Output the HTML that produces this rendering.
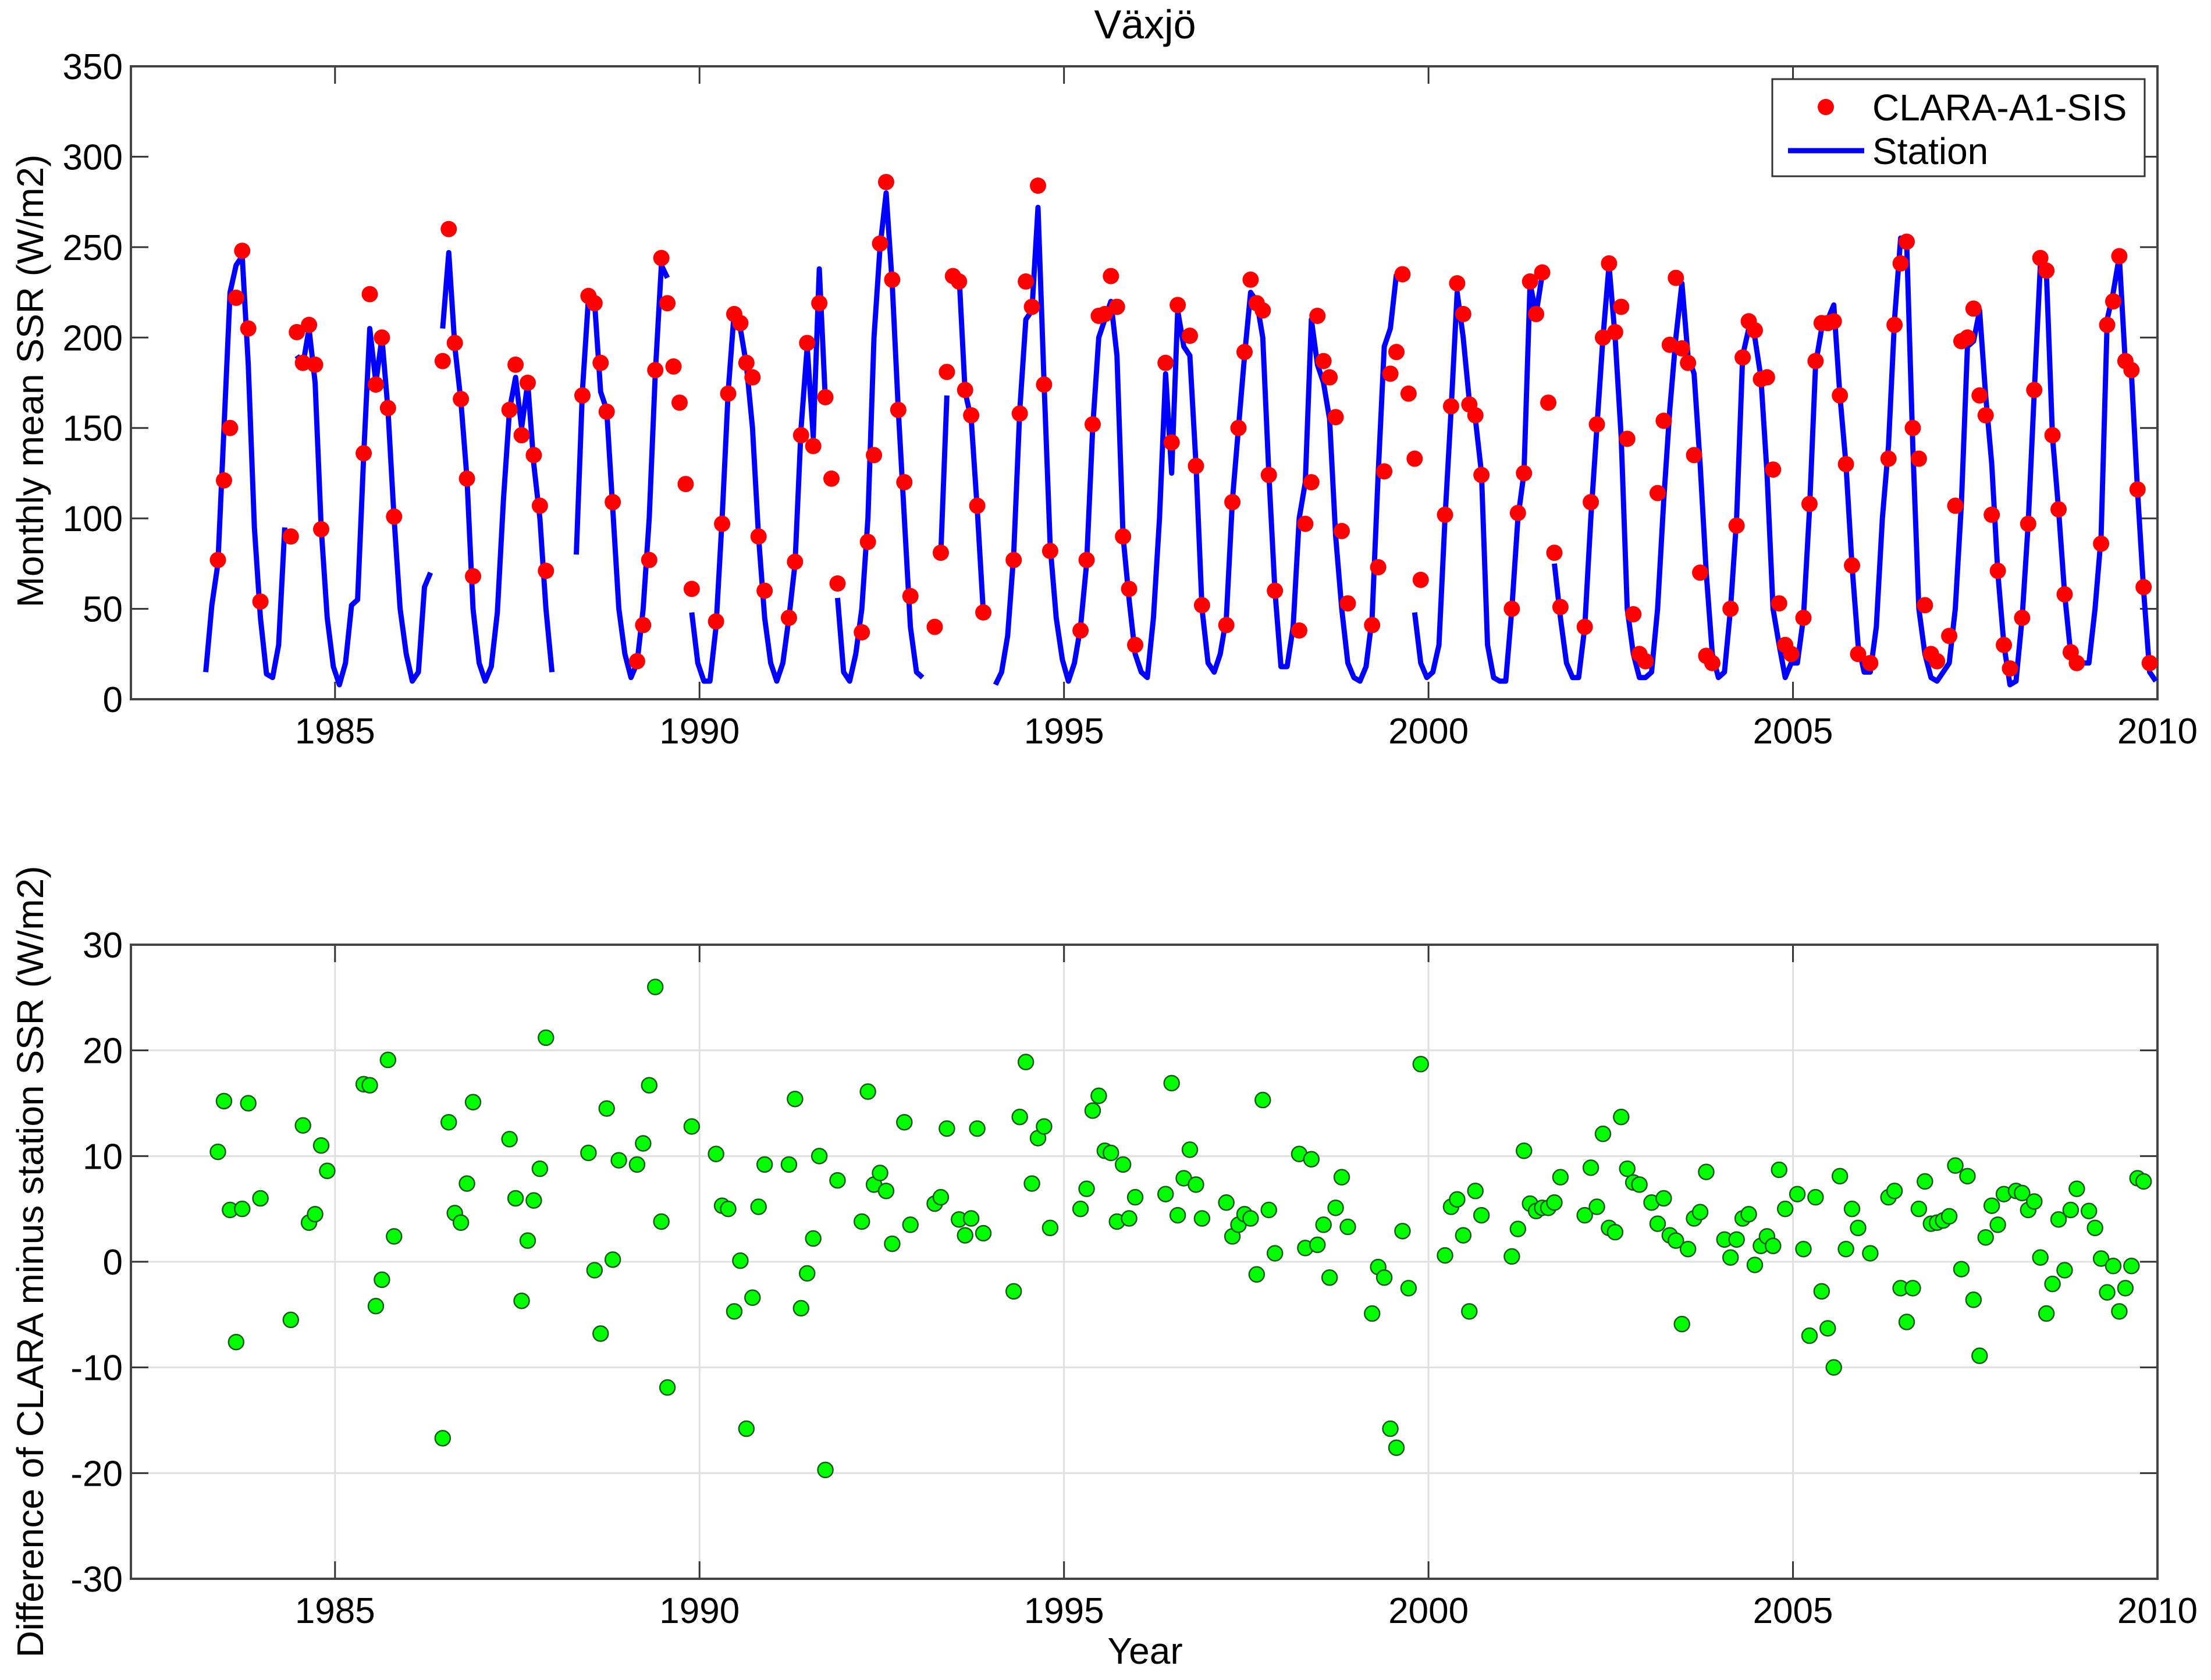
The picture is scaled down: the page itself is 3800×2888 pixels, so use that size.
<!DOCTYPE html>
<html><head><meta charset="utf-8">
<style>
html,body{margin:0;padding:0;background:#fff;}
svg{display:block;font-family:"Liberation Sans",Arial,sans-serif;}
</style></head>
<body>
<svg id="chart" width="3800" height="2888" viewBox="0 0 3800 2888" xmlns="http://www.w3.org/2000/svg">
<rect x="0" y="0" width="3800" height="2888" fill="#fff"/>
<text x="1968" y="66" font-size="70" text-anchor="middle">Växjö</text>
<g id="top"></g>
<g id="bot"></g>
<text transform="translate(74,655) rotate(-90)" font-size="64" text-anchor="middle">Monthly mean SSR (W/m2)</text>
<text transform="translate(74,2169) rotate(-90)" font-size="64" text-anchor="middle">Difference of CLARA minus station SSR (W/m2)</text>
<text x="1968" y="2860" font-size="64" text-anchor="middle">Year</text>
<g>
<rect x="3046" y="136" width="640" height="167" fill="#fff" stroke="#333" stroke-width="3"/>
<circle cx="3138" cy="184" r="14" fill="#ff0000"/>
<text x="3218" y="207" font-size="64">CLARA-A1-SIS</text>
<line x1="3073" y1="259" x2="3204" y2="259" stroke="#0000ff" stroke-width="9"/>
<text x="3218" y="282" font-size="64">Station</text>
</g>
</svg>
<script>
const startYear = 1983;
const xTicks = [1985, 1990, 1995, 2000, 2005, 2010];
const topYTicks = [0, 50, 100, 150, 200, 250, 300, 350];
const botYTicks = [-30, -20, -10, 0, 10, 20, 30];
const _ = null;
const station = [
_,_,15,52,75,150,225,240,245,185,95,45,
14,12,30,95,_,190,185,205,175,95,45,18,
8,20,52,55,135,205,175,200,160,100,50,25,
10,15,62,70,_,205,247,195,165,122,50,20,
10,18,48,110,160,178,150,175,130,100,50,15,
_,_,_,80,170,222,220,170,160,105,50,25,
12,20,50,100,180,240,233,_,_,_,48,20,
10,10,40,100,170,215,205,185,150,90,45,20,
10,20,45,75,150,195,145,238,165,_,56,15,
10,25,50,100,200,250,280,230,160,100,40,15,
12,_,_,80,168,_,235,170,155,105,48,_,
8,15,35,80,160,210,215,272,175,85,45,22,
10,20,40,75,150,200,210,220,190,90,55,25,
15,12,45,100,180,125,215,195,190,130,50,20,
15,25,45,110,150,190,225,220,200,125,60,18,
18,40,100,120,210,185,175,155,90,50,20,12,
10,18,45,125,195,205,235,_,_,48,20,12,
15,30,100,160,225,200,165,155,125,30,12,10,
10,50,100,125,230,213,235,_,75,45,20,12,
12,40,100,150,200,240,200,145,50,25,12,12,
15,50,110,160,200,230,190,180,130,70,25,12,
15,50,100,190,205,200,178,125,50,30,12,20,
20,45,105,185,205,210,218,168,130,74,30,15,
15,40,100,140,210,255,252,140,50,25,12,10,
15,20,50,108,195,198,215,168,130,70,30,8,
10,45,97,170,240,236,145,105,58,25,18,20,
20,50,90,210,225,245,185,180,115,60,15,10];
const clara = [
_,_,_,_,77,121,150,222,248,205,_,54,
_,_,_,_,90,203,186,207,185,94,_,_,
_,_,_,_,136,224,174,200,161,101,_,_,
_,_,_,_,_,187,260,197,166,122,68,_,
_,_,_,_,160,185,146,175,135,107,71,_,
_,_,_,_,168,223,219,186,159,109,_,_,
_,21,41,77,182,244,219,184,164,119,61,_,
_,_,43,97,169,213,208,186,178,90,60,_,
_,_,45,76,146,197,140,219,167,122,64,_,
_,_,37,87,135,252,286,232,160,120,57,_,
_,_,40,81,181,234,231,171,157,107,48,_,
_,_,_,77,158,231,217,284,174,82,_,_,
_,_,38,77,152,212,213,234,217,90,61,30,
_,_,_,_,186,142,218,_,201,129,52,_,
_,_,41,109,150,192,232,219,215,124,60,_,
_,_,38,97,120,212,187,178,156,93,53,_,
_,_,41,73,126,180,192,235,169,133,66,_,
_,_,102,162,230,213,163,157,124,_,_,_,
_,50,103,125,231,213,236,164,81,51,_,_,
_,40,109,152,200,241,203,217,144,47,25,21,
_,114,154,196,233,194,186,135,70,24,20,_,
_,50,96,189,209,204,177,178,127,53,30,25,
_,45,108,187,208,208,209,168,130,74,25,_,
20,_,_,133,207,241,253,150,133,52,25,21,
_,35,107,198,200,216,168,157,102,71,30,17,
_,45,97,171,244,237,146,105,58,26,20,_,
_,_,86,207,220,245,187,182,116,62,20,_];
const diffMonths = [4,5,6,7,8,9,11,16,18,19,20,21,22,28,29,30,31,32,33,41,42,43,44,45,46,52,53,54,55,56,57,58,65,66,67,68,69,70,73,74,75,76,77,78,82,86,87,88,89,90,91,92,93,94,98,99,100,101,102,103,104,106,110,111,112,113,114,115,117,118,122,123,124,126,127,128,129,130,135,136,137,138,139,140,141,146,147,148,149,150,151,152,153,154,155,160,161,162,163,164,165,166,170,171,172,173,174,175,176,177,178,182,183,184,185,186,187,188,189,190,194,195,196,197,198,199,200,202,206,207,208,209,210,211,212,217,218,219,220,221,222,223,224,225,229,230,231,232,233,234,235,236,237,238,240,241,242,243,244,245,246,247,248,249,252,253,254,255,256,257,258,259,260,261,262,264,265,266,267,268,269,270,271,272,273,274,276,279,280,281,282,283,284,285,286,287,288,289,290,291,292,293,294,295,296,297,298,300,301,302,303,304,305,306,307,308,309,310,312,313,314,315,316,317,318,319,320,321];
const diffValues = [10.4,15.2,4.9,-7.6,5,15,6,-5.5,12.9,3.7,4.5,11,8.6,16.8,16.7,-4.2,-1.7,19.1,2.4,-16.7,13.2,4.6,3.7,7.4,15.1,11.6,6,-3.7,2,5.8,8.8,21.2,10.3,-0.8,-6.8,14.5,0.2,9.6,9.2,11.2,16.7,26,3.8,-11.9,12.8,10.2,5.3,5,-4.7,0.1,-15.8,-3.4,5.2,9.2,9.2,15.4,-4.4,-1.1,2.2,10,-19.7,7.7,3.8,16.1,7.3,8.4,6.7,1.7,13.2,3.5,5.5,6.1,12.6,4,2.5,4.1,12.6,2.7,-2.8,13.7,18.9,7.4,11.7,12.8,3.2,5,6.9,14.3,15.7,10.5,10.3,3.8,9.2,4.1,6.1,6.4,16.9,4.4,7.9,10.6,7.3,4.1,5.6,2.4,3.5,4.5,4.1,-1.2,15.3,4.9,0.8,10.2,1.3,9.7,1.6,3.5,-1.5,5.1,8,3.3,-4.9,-0.5,-1.5,-15.8,-17.6,2.9,-2.5,18.7,0.6,5.2,5.9,2.5,-4.7,6.7,4.4,0.5,3.1,10.5,5.5,4.8,5.1,5.1,5.6,8,4.4,8.9,5.2,12.1,3.2,2.8,13.7,8.8,7.5,7.3,5.6,3.6,6,2.5,2,-5.9,1.2,4.1,4.7,8.5,2.1,0.4,2.1,4.1,4.5,-0.3,1.5,2.4,1.5,8.7,5,6.4,1.2,-7,6.1,-2.8,-6.3,-10,8.1,1.2,5,3.2,0.8,6.1,6.7,-2.5,-5.7,-2.5,5,7.6,3.6,3.7,3.9,4.3,9.1,-0.7,8.1,-3.6,-8.9,2.3,5.3,3.5,6.4,6.7,6.5,4.9,5.7,0.4,-4.9,-2.1,4,-0.8,4.9,6.9,4.8,3.2,0.3,-2.9,-0.4,-4.7,-2.5,-0.4,7.9,7.6];

const NS = 'http://www.w3.org/2000/svg';
const L = 225, R = 3708, XMIN = 1982.2, XMAX = 2010;
const TOP = {t:114, b:1202, min:0, max:350};
const BOT = {t:1624, b:2714, min:-30, max:30};
function xs(t){ return L + (t - XMIN) / (XMAX - XMIN) * (R - L); }
function ys(p, v){ return p.b - (v - p.min) / (p.max - p.min) * (p.b - p.t); }
function monthTime(n){ return startYear + n / 12 + 0.06; }
function mk(tag, attrs, parent){ const e = document.createElementNS(NS, tag); for (const k in attrs) e.setAttribute(k, attrs[k]); parent.appendChild(e); return e; }

function drawAxes(g, p, yTicks, grid, prefix){
  if (grid){
    xTicks.forEach(v => { const l = mk('line', {x1:xs(v), x2:xs(v), y1:p.t, y2:p.b, stroke:'#e0e0e0', 'stroke-width':3}, g);
      
       });
    yTicks.forEach(v => { const l = mk('line', {x1:L, x2:R, y1:ys(p,v), y2:ys(p,v), stroke:'#e0e0e0', 'stroke-width':3}, g);
      
       });
  }
  xTicks.forEach(v => {
    const x = xs(v);
    const a = mk('line', {x1:x, x2:x, y1:p.b, y2:p.b-30, stroke:'#333', 'stroke-width':3}, g);
    
    
    const b = mk('line', {x1:x, x2:x, y1:p.t, y2:p.t+30, stroke:'#333', 'stroke-width':3}, g);
    
    
    const tx = mk('text', {x: (v === 2010 ? Math.min(x, 3795 - 70) : x), y: p.b + 76, 'font-size':62, 'text-anchor':'middle'}, g);
    tx.textContent = v;
    
    
  });
  yTicks.forEach(v => {
    const y = ys(p, v);
    const a = mk('line', {x1:L, x2:L+30, y1:y, y2:y, stroke:'#333', 'stroke-width':3}, g);
    
    
    const b = mk('line', {x1:R, x2:R-30, y1:y, y2:y, stroke:'#333', 'stroke-width':3}, g);
    
    
    const tx = mk('text', {x: L - 14, y: y + 22, 'font-size':62, 'text-anchor':'end'}, g);
    tx.textContent = v;
    
    
  });
  const box = mk('rect', {x:L, y:p.t, width:R-L, height:p.b-p.t, fill:'none', stroke:'#444', 'stroke-width':4}, g);
  
  
}

const gt = document.getElementById('top');
drawAxes(gt, TOP, topYTicks, false, 'top');
let d = '', pen = false;
station.forEach((v, i) => {
  if (v === null) { pen = false; return; }
  d += (pen ? 'L' : 'M') + xs(monthTime(i)).toFixed(1) + ' ' + ys(TOP, v).toFixed(1) + ' ';
  pen = true;
});
const line = mk('path', {d: d, fill:'none', stroke:'#0000ff', 'stroke-width':9, 'stroke-linejoin':'round'}, gt);


clara.forEach((v, i) => {
  if (v === null) return;
  const c = mk('circle', {cx: xs(monthTime(i)), cy: ys(TOP, v), r: 14, fill:'#ff0000'}, gt);
  
  
});

const gb = document.getElementById('bot');
drawAxes(gb, BOT, botYTicks, true, 'bottom');
diffValues.forEach((v, i) => {
  const c = mk('circle', {cx: xs(monthTime(diffMonths[i])), cy: ys(BOT, v), r: 13, fill:'#00ff00', stroke:'#1a5a1a', 'stroke-width':2.5}, gb);
  
  
});
</script>
</body></html>
